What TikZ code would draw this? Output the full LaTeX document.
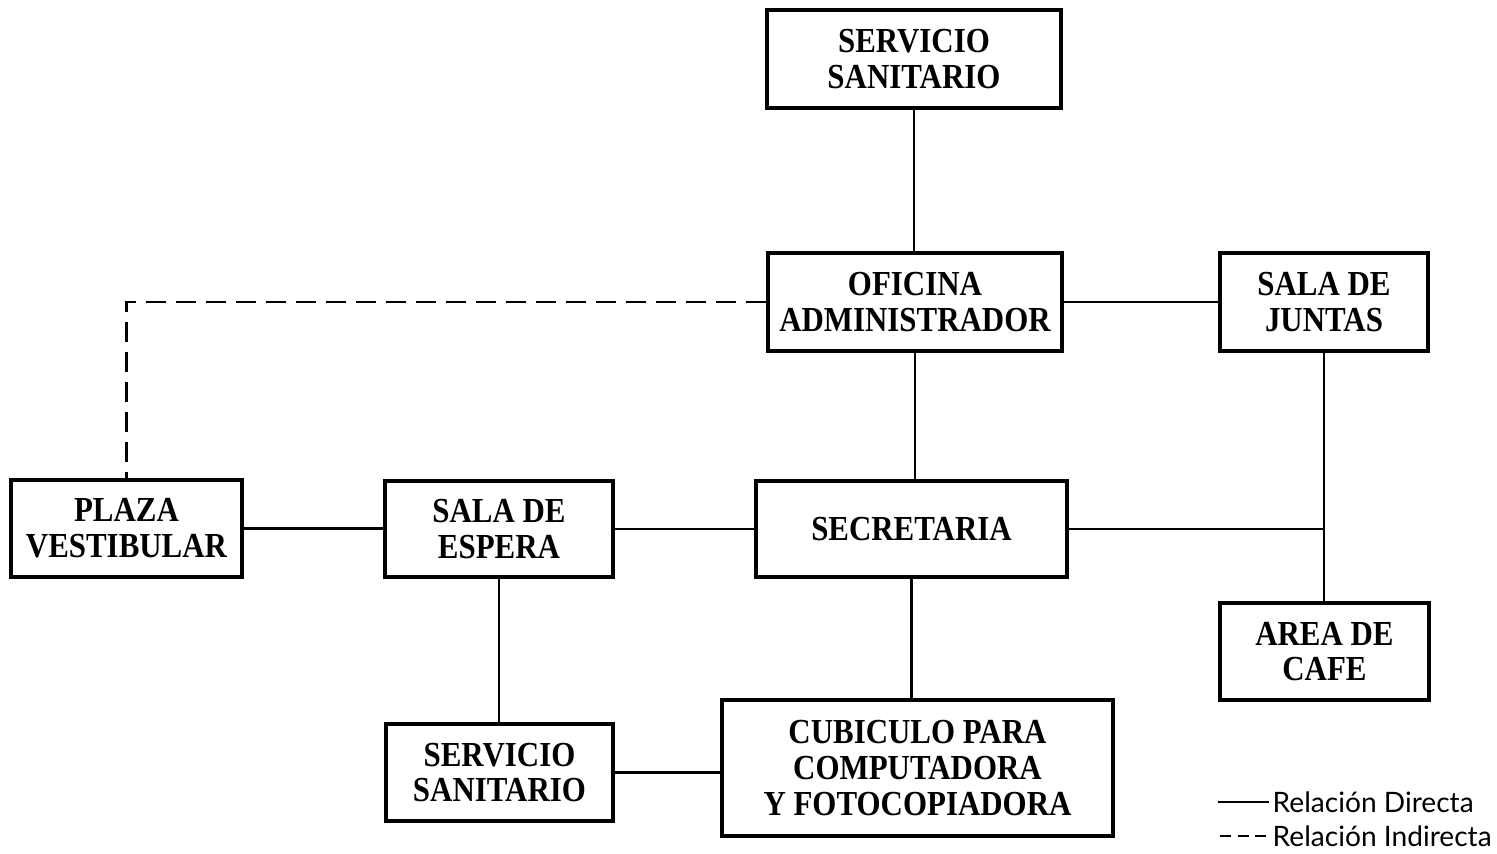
\documentclass[tikz,border=0pt]{standalone}
\usepackage{fontspec}
\setmainfont{Liberation Serif}[FakeStretch=0.88]
\newfontfamily\legendfont{Lato}
\begin{document}
\begin{tikzpicture}[
    box/.style={draw, line width=0.9pt, align=center, inner sep=2pt,
        font=\bfseries\fontsize{10}{10.2}\selectfont},
    rel/.style={line width=0.8pt},
    indirect/.style={line width=0.8pt, dash pattern=on 2mm off 1mm},
    legend/.style={anchor=west, inner sep=0pt, font=\legendfont\fontsize{8}{9}\selectfont}]

\useasboundingbox (0,0) rectangle (14.97,8.53);

% Espacios
\node[box, minimum width=2.94cm, minimum height=0.98cm] (ssup) at (9.14,7.94) {SERVICIO\\SANITARIO};
\node[box, minimum width=2.94cm, minimum height=0.98cm] (ofi) at (9.15,5.51) {OFICINA\\ADMINISTRADOR};
\node[box, minimum width=2.08cm, minimum height=0.98cm] (jun) at (13.24,5.51) {SALA DE\\JUNTAS};
\node[box, minimum width=2.31cm, minimum height=0.97cm] (pla) at (1.265,3.245) {PLAZA\\VESTIBULAR};
\node[box, minimum width=2.28cm, minimum height=0.96cm] (esp) at (4.99,3.24) {SALA DE\\ESPERA};
\node[box, minimum width=3.11cm, minimum height=0.96cm] (sec) at (9.115,3.24) {SECRETARIA};
\node[box, minimum width=2.09cm, minimum height=0.97cm] (caf) at (13.245,2.015) {AREA DE\\CAFE};
\node[box, minimum width=2.27cm, minimum height=0.97cm] (ssdn) at (4.995,0.805) {SERVICIO\\SANITARIO};
\node[box, minimum width=3.91cm, minimum height=1.36cm] (cub) at (9.175,0.85) {CUBICULO PARA\\COMPUTADORA\\Y FOTOCOPIADORA};

% Relaciones
\draw[rel] (ssup.south) -- (ssup.south |- ofi.north);
\draw[rel] (ofi.east) -- (jun.west);
\draw[rel] (ofi.south) -- (ofi.south |- sec.north);
\draw[rel] (jun.south) -- (jun.south |- caf.north);
\draw[rel] (sec.east) -- (sec.east -| jun.south);
\draw[rel] (pla.east) -- (pla.east -| esp.west);
\draw[rel] (esp.east) -- (sec.west);
\draw[rel] (esp.south) -- (esp.south |- ssdn.north);
\draw[rel] (sec.south) -- (sec.south |- cub.north);
\draw[rel] (ssdn.east) -- (ssdn.east -| cub.west);
\draw[indirect] (ofi.west) -| (pla.north);

% Leyenda
\coordinate (ldir) at (12.18,0.51);
\coordinate (lind) at (12.2,0.17);
\node[legend] (tdir) at (12.72,0.51) {Relación Directa};
\node[legend] (tind) at (12.72,0.17) {Relación Indirecta};
\draw[rel] (ldir) -- ([xshift=-0.3mm]tdir.west);
\draw[line width=0.8pt, dash pattern=on 1.1mm off 0.65mm] (lind) -- (tind.west);

\end{tikzpicture}
\end{document}
